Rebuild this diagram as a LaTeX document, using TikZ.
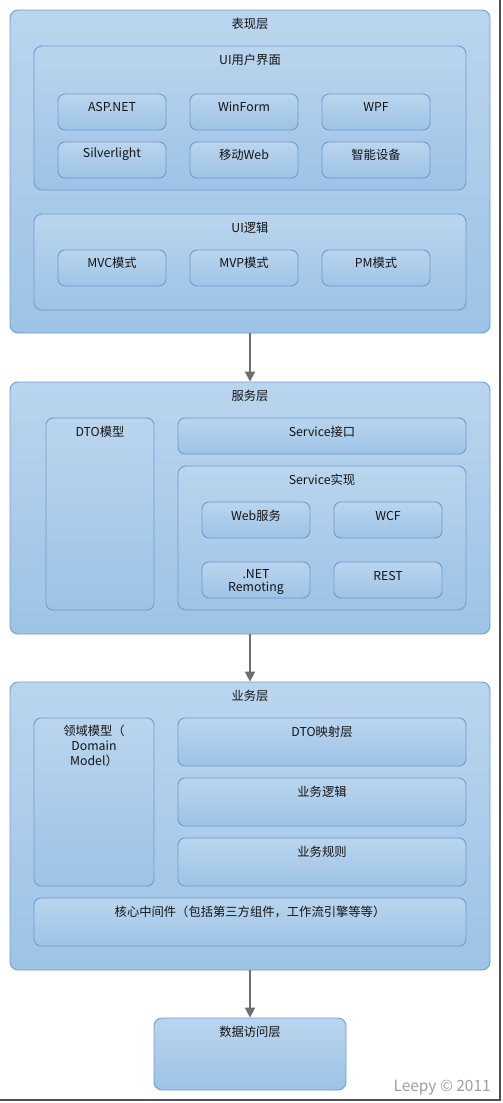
\documentclass[tikz,border=0pt]{standalone}
\usepackage{fontspec}
\setmainfont{Noto Sans CJK SC}
\usetikzlibrary{arrows.meta}
\definecolor{bord}{HTML}{6F9BD1}
\definecolor{topc}{HTML}{BAD5EE}
\definecolor{botc}{HTML}{9DC3E6}
\definecolor{arr}{HTML}{6E6E6E}
\definecolor{frame}{HTML}{505050}
\begin{document}
\begin{tikzpicture}[x=1pt,y=-1pt,
  font=\fontsize{12.3}{14}\selectfont,
  box/.style n args={2}{draw=bord, line width=0.9pt, rounded corners=8pt,
    top color=topc, bottom color=botc, inner sep=0pt,
    minimum width=#1, minimum height=#2},
  sbox/.style n args={2}{box={#1}{#2}, rounded corners=7pt},
  lbl/.style={inner sep=0pt, anchor=center, text=black!92},
  flow/.style={draw=arr, line width=1.8pt, -{Triangle[width=10pt,length=10pt]}}]
\useasboundingbox (0,0) rectangle (503,1103);
\fill[white] (0,0) rectangle (503,1103);
% frame
\draw[frame, line width=2pt] (500,0) -- (500,1100) -- (0,1100);

% presentation layer
\node[box={480pt}{323pt}] (pres) at (250,171.5) {};
\node[lbl] (tpres) at ([yshift=-14pt]pres.north) {表现层};
\node[box={432pt}{144pt}] (ui) at (250,118) {};
\node[lbl] (tui) at ([yshift=-14pt]ui.north) {UI用户界面};
\node[sbox={108pt}{36pt}] (asp) at (112,112) {};
\node[lbl] at ([yshift=-13pt]asp.north) {ASP.NET};
\node[sbox={108pt}{36pt}] (winf) at (244,112) {};
\node[lbl] at ([yshift=-13pt]winf.north) {WinForm};
\node[sbox={108pt}{36pt}] (wpf) at (376,112) {};
\node[lbl] at ([yshift=-13pt]wpf.north) {WPF};
\node[sbox={108pt}{36pt}] (silv) at (112,160) {};
\node[lbl] at ([yshift=-13pt]silv.north) {Silverlight};
\node[sbox={108pt}{36pt}] (mweb) at (244,160) {};
\node[lbl] at ([yshift=-13pt]mweb.north) {移动Web};
\node[sbox={108pt}{36pt}] (smart) at (376,160) {};
\node[lbl] at ([yshift=-13pt]smart.north) {智能设备};

\node[box={432pt}{96pt}] (uil) at (250,262) {};
\node[lbl] (tuil) at ([yshift=-14pt]uil.north) {UI逻辑};
\node[sbox={108pt}{36pt}] (mvc) at (112,268) {};
\node[lbl] at ([yshift=-13pt]mvc.north) {MVC模式};
\node[sbox={108pt}{36pt}] (mvp) at (244,268) {};
\node[lbl] at ([yshift=-13pt]mvp.north) {MVP模式};
\node[sbox={108pt}{36pt}] (pm) at (376,268) {};
\node[lbl] at ([yshift=-13pt]pm.north) {PM模式};

% service layer
\node[box={480pt}{252pt}] (serv) at (250,508) {};
\node[lbl] (tserv) at ([yshift=-14pt]serv.north) {服务层};
\node[sbox={108pt}{192pt}] (dto) at (100,514) {};
\node[lbl] at ([yshift=-14pt]dto.north) {DTO模型};
\node[sbox={288pt}{36pt}] (sif) at (322,436) {};
\node[lbl] at ([yshift=-14pt]sif.north) {Service接口};
\node[box={288pt}{144pt}] (simpl) at (322,538) {};
\node[lbl] at ([yshift=-14pt]simpl.north) {Service实现};
\node[sbox={108pt}{36pt}] (websvc) at (256,520) {};
\node[lbl] at ([yshift=-14pt]websvc.north) {Web服务};
\node[sbox={108pt}{36pt}] (wcf) at (388,520) {};
\node[lbl] at ([yshift=-14pt]wcf.north) {WCF};
\node[sbox={108pt}{36pt}] (remo) at (256,580) {};
\node[lbl, anchor=north, align=center, font=\fontsize{12.3}{12.5}\selectfont] at ([yshift=-8pt]remo.north) {.NET\\Remoting};
\node[sbox={108pt}{36pt}] (rest) at (388,580) {};
\node[lbl] at ([yshift=-14pt]rest.north) {REST};

% business layer
\node[box={480pt}{288pt}] (biz) at (250,826) {};
\node[lbl] (tbiz) at ([yshift=-14pt]biz.north) {业务层};
\node[sbox={120pt}{168pt}] (dom) at (94,802) {};
\node[lbl, anchor=north, align=center, font=\fontsize{12.3}{15}\selectfont] at ([yshift=-7pt]dom.north) {领域模型（\\Domain\\Model）};
\node[sbox={288pt}{48pt}] (dmap) at (322,742) {};
\node[lbl] at ([yshift=-14pt]dmap.north) {DTO映射层};
\node[sbox={288pt}{48pt}] (blog) at (322,802) {};
\node[lbl] at ([yshift=-14pt]blog.north) {业务逻辑};
\node[sbox={288pt}{48pt}] (brule) at (322,862) {};
\node[lbl] at ([yshift=-14pt]brule.north) {业务规则};
\node[sbox={432pt}{48pt}] (core) at (250,922) {};
\node[lbl] at ([yshift=-14pt]core.north) {核心中间件（包括第三方组件，工作流引擎等等）};

% data access layer
\node[box={192pt}{72pt}] (data) at (250,1054) {};
\node[lbl] at ([yshift=-14pt]data.north) {数据访问层};

% arrows
\draw[flow] (pres.south) -- (serv.north);
\draw[flow] (serv.south) -- (biz.north);
\draw[flow] (biz.south) -- (data.north);

% credit
\node[inner sep=0pt, anchor=east, text=black!38, font=\fontsize{15.5}{17}\selectfont] (cred) at (491,1088) {Leepy © 2011};
\end{tikzpicture}
\end{document}
